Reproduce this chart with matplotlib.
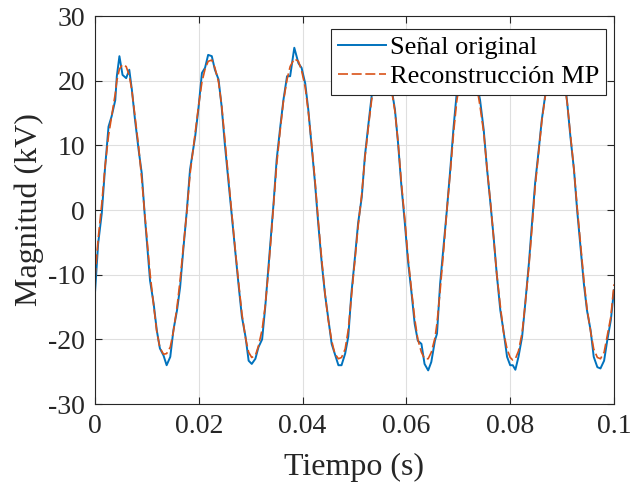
import matplotlib
matplotlib.use('Agg')
import matplotlib.pyplot as plt
from matplotlib.ticker import FuncFormatter

plt.rcParams.update({
    'font.family': ['Liberation Serif', 'DejaVu Serif'],
    'axes.unicode_minus': False,
})

# time axis (s)
t = [0.0000, 0.0006, 0.0013, 0.0019, 0.0026, 0.0032, 0.0039, 0.0042, 0.0047, 0.0053,
     0.0060, 0.0066, 0.0071, 0.0077, 0.0084, 0.0090, 0.0096, 0.0106, 0.0113, 0.0119,
     0.0125, 0.0132, 0.0138, 0.0145, 0.0151, 0.0158, 0.0164, 0.0170, 0.0177, 0.0183,
     0.0193, 0.0199, 0.0206, 0.0212, 0.0218, 0.0225, 0.0231, 0.0238, 0.0244, 0.0250,
     0.0260, 0.0270, 0.0277, 0.0283, 0.0290, 0.0296, 0.0302, 0.0309, 0.0315, 0.0322,
     0.0328, 0.0334, 0.0340, 0.0344, 0.0350, 0.0357, 0.0363, 0.0370, 0.0376, 0.0384,
     0.0392, 0.0398, 0.0405, 0.0411, 0.0417, 0.0424, 0.0430, 0.0437, 0.0443, 0.0449,
     0.0456, 0.0462, 0.0469, 0.0475, 0.0482, 0.0488, 0.0494, 0.0501, 0.0507, 0.0514,
     0.0520, 0.0527, 0.0533, 0.0540, 0.0547, 0.0553, 0.0560, 0.0566, 0.0571, 0.0578,
     0.0584, 0.0590, 0.0597, 0.0603, 0.0610, 0.0616, 0.0622, 0.0629, 0.0635, 0.0642,
     0.0648, 0.0655, 0.0659, 0.0665, 0.0672, 0.0678, 0.0685, 0.0691, 0.0697, 0.0704,
     0.0711, 0.0718, 0.0724, 0.0730, 0.0736, 0.0742, 0.0749, 0.0755, 0.0762, 0.0768,
     0.0774, 0.0781, 0.0787, 0.0794, 0.0800, 0.0805, 0.0810, 0.0816, 0.0823, 0.0829,
     0.0836, 0.0842, 0.0848, 0.0855, 0.0861, 0.0868, 0.0874, 0.0881, 0.0888, 0.0895,
     0.0901, 0.0906, 0.0910, 0.0916, 0.0923, 0.0929, 0.0936, 0.0942, 0.0948, 0.0955,
     0.0961, 0.0968, 0.0974, 0.0981, 0.0987, 0.0994, 0.1000]

# original signal (kV)
senal = [-12.7, -5.2, -0.5, 6.2, 12.9, 14.5, 17.0, 20.7, 23.8, 20.9,
         20.4, 21.7, 18.6, 14.0, 9.3, 5.7, -1.0, -10.9, -14.5, -18.6,
         -21.4, -22.5, -24.0, -22.7, -18.6, -15.5, -11.9, -6.2, 0.0, 6.2,
         11.4, 15.5, 21.2, 22.0, 24.0, 23.8, 21.7, 20.2, 16.0, 10.3,
         2.0, -6.2, -11.9, -16.5, -19.6, -23.3, -23.8, -23.0, -21.2, -20.0,
         -15.0, -9.0, -3.0, 1.0, 7.8, 12.9, 17.0, 20.7, 20.7, 25.1,
         22.7, 22.0, 19.6, 15.5, 10.3, 4.1, -2.0, -8.3, -12.9, -16.5,
         -20.7, -22.2, -24.0, -24.0, -22.2, -19.6, -12.9, -7.2, -2.0, 2.0,
         8.3, 13.4, 17.6, 21.0, 23.0, 23.6, 22.5, 21.0, 19.0, 15.5,
         10.3, 4.1, -2.0, -7.8, -12.9, -17.6, -20.2, -20.7, -23.8, -24.8,
         -23.5, -20.2, -19.1, -11.4, -5.2, 0.0, 6.7, 12.9, 18.1, 21.5,
         23.5, 24.2, 23.0, 21.5, 19.5, 17.0, 12.4, 6.7, 1.0, -4.1,
         -9.8, -15.5, -18.6, -22.7, -24.0, -24.0, -24.7, -22.7, -19.6, -14.5,
         -8.3, -2.0, 4.1, 9.3, 14.0, 18.1, 21.5, 23.5, 24.0, 23.0,
         21.5, 19.5, 16.5, 11.4, 6.2, 0.0, -6.2, -11.4, -15.5, -18.6,
         -22.7, -24.3, -24.5, -23.3, -20.2, -17.0, -12.4]

# MP reconstruction (kV)
recons = [-10.5, -4.5, 1.0, 6.5, 11.5, 14.5, 18.0, 20.0, 21.8, 22.5,
          22.2, 20.8, 18.5, 14.5, 9.8, 4.8, -0.8, -9.8, -14.8, -18.8,
          -21.3, -22.3, -22.2, -21.2, -18.8, -15.0, -10.8, -5.8, -0.2, 5.5,
          12.0, 15.8, 19.8, 21.8, 23.0, 23.2, 22.0, 19.8, 16.2, 11.0,
          2.5, -6.0, -11.5, -16.0, -19.8, -22.0, -22.8, -22.5, -21.0, -18.5,
          -14.8, -9.5, -3.5, 0.8, 7.0, 12.5, 16.8, 20.2, 22.2, 23.4,
          23.0, 21.6, 19.0, 15.2, 10.5, 4.5, -1.5, -7.8, -12.8, -16.8,
          -20.2, -22.2, -23.0, -22.8, -21.5, -18.5, -13.5, -7.8, -2.5, 2.5,
          8.0, 13.0, 17.0, 20.5, 22.5, 23.2, 22.8, 21.0, 18.8, 15.2,
          10.5, 4.5, -1.5, -7.2, -12.5, -16.8, -20.0, -22.0, -23.0, -23.0,
          -22.0, -19.8, -17.5, -12.5, -6.0, 0.0, 6.2, 12.0, 16.8, 20.5,
          22.6, 23.3, 22.8, 21.2, 19.0, 16.0, 12.0, 6.8, 1.2, -4.2,
          -9.8, -14.8, -18.8, -21.5, -22.8, -23.2, -23.0, -21.8, -19.0, -14.5,
          -8.8, -2.8, 3.5, 9.0, 13.8, 17.8, 20.8, 22.6, 23.3, 22.8,
          21.0, 18.8, 16.5, 11.8, 6.2, 0.5, -5.5, -10.8, -15.2, -18.8,
          -21.5, -22.8, -23.0, -22.0, -19.5, -16.5, -11.5]

xticks = [0, 0.02, 0.04, 0.06, 0.08, 0.1]
yticks = [-30, -20, -10, 0, 10, 20, 30]

fig = plt.figure(figsize=(6.31, 4.87), dpi=100)
ax = fig.add_axes([0.1506, 0.1704, 0.8224, 0.7966])

ax.plot(t, senal, color='#0072BD', lw=1.4, label='Señal original')
ax.plot(t, recons, color='#D95319', lw=1.2, ls=(0, (6, 2.2)), label='Reconstrucción MP')

ax.set_xlim(0, 0.1)
ax.set_ylim(-30, 30)
ax.set_xticks(xticks)
ax.set_yticks(yticks)
ax.xaxis.set_major_formatter(FuncFormatter(lambda v, p: f'{v:g}'))
ax.tick_params(direction='in', length=5, labelsize=20, colors='#262626',
               top=True, right=True, pad=7.2)
for lbl in ax.get_xticklabels() + ax.get_yticklabels():
    lbl.set_color('#262626')
for s in ax.spines.values():
    s.set_color('#262626')
    s.set_linewidth(0.8)
ax.grid(True, color='#dfdfdf', lw=0.8)
ax.set_axisbelow(True)

ax.set_xlabel('Tiempo (s)', fontsize=23, color='#262626')
ax.set_ylabel('Magnitud (kV)', fontsize=23, color='#262626')
ax.xaxis.set_label_coords(0.5, -0.1263)
ax.yaxis.set_label_coords(-0.0983, 0.5)

leg = ax.legend(loc='upper right', bbox_to_anchor=(0.9846, 0.9657), borderaxespad=0,
                fontsize=19, frameon=True, fancybox=False,
                handlelength=1.84, handletextpad=0.15, borderpad=0.25,
                labelspacing=0.2)
leg.get_frame().set_edgecolor('#262626')
leg.get_frame().set_linewidth(0.8)
leg.get_frame().set_alpha(1)

fig.savefig('out.png', dpi=100)
